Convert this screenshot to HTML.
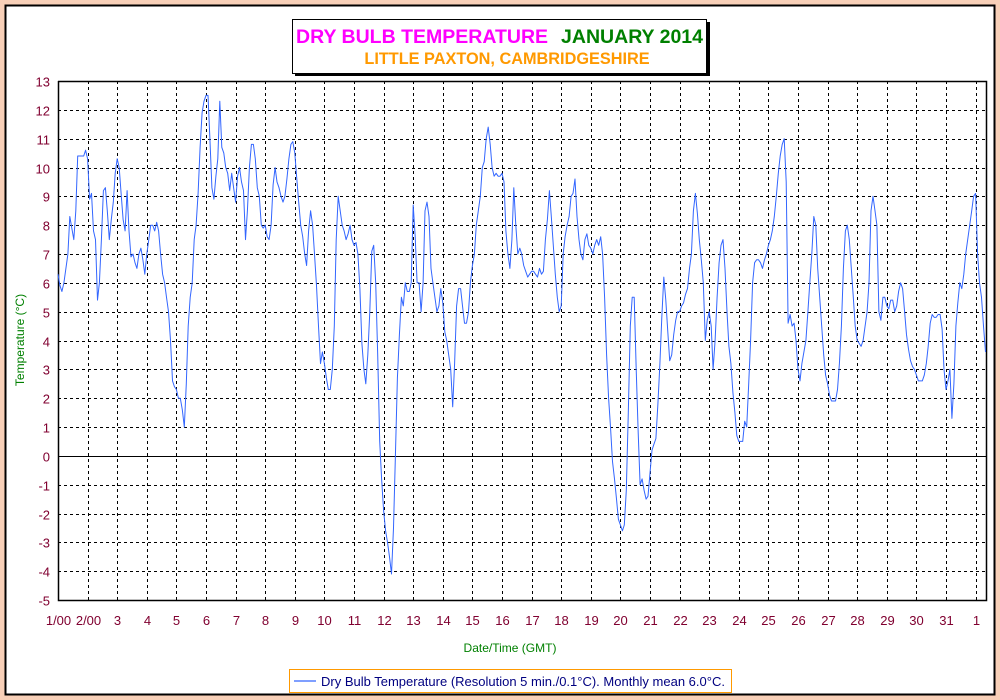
<!DOCTYPE html>
<html><head><meta charset="utf-8"><style>
html,body{margin:0;padding:0;background:#F8D0B8;}
svg{display:block;font-family:"Liberation Sans",sans-serif;}
</style></head><body>
<svg id="chart" width="1000" height="700" viewBox="0 0 1000 700">
<rect x="0" y="0" width="1000" height="700" fill="#F8D0B8"/>
<rect x="5.5" y="5.5" width="989" height="689" fill="#fff" stroke="#000" stroke-width="2"/>
<g>
<rect x="295" y="22" width="415" height="54" fill="#000"/>
<rect x="292.5" y="19.5" width="414" height="54" fill="#fff" stroke="#000" stroke-width="1"/>
<text x="296" y="43" font-size="19.5" font-weight="bold" fill="#FF00FF">DRY BULB TEMPERATURE</text>
<text x="703" y="43" font-size="19.5" font-weight="bold" fill="#008000" text-anchor="end">JANUARY 2014</text>
<text x="507" y="64" font-size="16.3" font-weight="bold" fill="#FF9900" text-anchor="middle">LITTLE PAXTON, CAMBRIDGESHIRE</text>
</g>
<g id="grid"></g>
<g id="axes"></g>
<g id="series"></g>
<text x="510" y="652" font-size="12" fill="#008000" text-anchor="middle">Date/Time (GMT)</text>
<text transform="translate(24,340) rotate(-90)" font-size="12" fill="#008000" text-anchor="middle">Temperature (°C)</text>
<g>
<rect x="289.5" y="669.5" width="442" height="23" fill="#fff" stroke="#FF9900" stroke-width="1"/>
<line x1="294" y1="681" x2="316" y2="681" stroke="#3366FF" stroke-width="1.2"/>
<text x="321" y="686" font-size="13" fill="#000080">Dry Bulb Temperature (Resolution 5 min./0.1°C). Monthly mean 6.0°C.</text>
</g>
</svg>
<script>
const xTickLabels = ["1/00","2/00","3","4","5","6","7","8","9","10","11","12","13","14","15","16","17","18","19","20","21","22","23","24","25","26","27","28","29","30","31","1"];
const yTicks = [13,12,11,10,9,8,7,6,5,4,3,2,1,0,-1,-2,-3,-4,-5];
const day01 = [6.3,5.9,5.7,6.0,6.5,7.0,8.3,7.9,7.5,8.5,10.4,10.4,10.4,10.4,10.6];
const day02 = [10.3,8.9,9.1,7.8,7.5,5.4,6.0,7.5,9.2,9.3,8.5,7.5,8.2,8.8,9.8];
const day03 = [10.3,10.0,9.1,8.2,7.8,9.2,7.8,6.9,7.0,6.7,6.5,7.0,7.2,6.8,6.3];
const day04 = [7.0,7.5,8.0,8.0,7.8,8.1,7.8,7.0,6.3,6.0,5.5,5.0,4.0,2.6,2.4];
const day05 = [2.3,2.0,2.0,1.6,1.0,2.5,4.5,5.5,6.0,7.5,8.0,9.1,10.7,11.9,12.3];
const day06 = [12.5,12.5,11.0,9.3,8.9,9.7,10.3,12.3,10.7,10.5,10.0,9.8,9.2,9.8,9.3];
const day07 = [8.8,9.7,10.0,9.5,9.2,7.5,8.5,10.0,10.8,10.8,10.3,9.3,9.0,8.0,7.9];
const day08 = [8.0,7.6,7.5,8.0,9.4,10.0,9.5,9.3,9.0,8.8,9.0,9.6,10.3,10.8,10.9];
const day09 = [10.5,9.6,8.8,8.0,7.6,7.0,6.6,7.8,8.5,8.0,7.0,5.9,4.5,3.2,3.6];
const day10 = [3.2,2.7,2.3,2.3,3.0,4.5,7.5,9.0,8.5,8.0,7.8,7.5,7.7,8.0,7.5];
const day11 = [7.3,7.4,7.0,5.8,3.9,3.0,2.5,3.5,5.0,7.1,7.3,6.0,3.5,0.5,-0.8];
const day12 = [-1.9,-2.6,-3.0,-3.5,-4.1,-2.5,0.0,2.7,4.2,5.5,5.2,6.0,5.7,5.7,6.0];
const day13 = [8.7,7.6,6.0,6.0,5.0,6.0,8.5,8.8,8.3,6.5,6.0,5.5,5.0,5.2,5.8];
const day14 = [5.3,4.3,4.0,3.5,3.0,1.7,3.2,5.2,5.8,5.8,5.2,4.6,4.6,5.0,6.0];
const day15 = [6.6,7.0,8.0,8.5,9.0,10.0,10.2,11.0,11.4,10.8,10.0,9.7,9.8,9.7,9.7];
const day16 = [9.8,9.5,7.8,7.0,6.5,7.5,9.3,8.0,7.0,7.2,7.0,6.6,6.4,6.2,6.3];
const day17 = [6.4,6.4,6.3,6.2,6.5,6.3,6.4,7.5,8.2,9.2,8.3,7.3,6.3,5.5,5.0];
const day18 = [5.2,7.0,7.6,8.0,8.3,9.0,9.1,9.6,8.3,7.5,7.0,6.8,7.5,7.7,7.3];
const day19 = [7.2,7.0,7.3,7.5,7.3,7.6,7.0,5.5,3.5,2.0,1.0,-0.2,-0.8,-1.5,-2.2];
const day20 = [-2.4,-2.6,-2.4,-1.2,1.5,4.5,5.5,5.5,3.0,0.8,-1.0,-0.8,-1.2,-1.5,-1.4];
const day21 = [-0.6,0.2,0.4,0.6,1.8,3.2,4.8,6.2,5.4,4.3,3.3,3.5,4.2,4.7,5.0];
const day22 = [5.0,5.2,5.3,5.6,5.8,6.5,7.0,8.5,9.1,8.4,7.5,6.8,6.0,4.0,4.7];
const day23 = [5.0,4.5,3.0,4.0,5.5,6.7,7.3,7.5,6.5,5.0,3.8,3.2,2.2,1.5,0.7];
const day24 = [0.5,0.5,0.5,1.2,1.0,2.5,4.0,6.0,6.7,6.8,6.8,6.7,6.5,6.8,7.0];
const day25 = [7.3,7.5,7.8,8.3,9.0,9.8,10.4,10.8,11.0,9.5,4.6,4.9,4.5,4.6,4.0];
const day26 = [3.0,2.6,3.2,3.6,4.0,5.0,6.0,7.0,8.3,8.0,6.5,5.5,4.5,3.5,2.8];
const day27 = [2.5,2.1,1.9,1.9,1.9,2.3,3.2,4.5,6.5,7.8,8.0,7.5,6.5,5.5,4.5];
const day28 = [4.0,3.9,3.8,4.0,4.5,5.0,6.0,8.5,9.0,8.5,8.0,5.0,4.7,5.5,5.5];
const day29 = [5.2,5.1,5.4,5.4,5.0,5.2,5.7,6.0,5.8,5.0,4.2,3.7,3.3,3.1,3.0];
const day30 = [2.8,2.6,2.6,2.6,2.8,3.2,3.8,4.6,4.9,4.8,4.8,4.9,4.9,4.4,3.0];
const day31 = [2.3,2.6,3.0,1.3,2.5,4.5,5.3,6.0,5.8,6.3,7.0,7.5,8.0,8.5,9.0];
const day32 = [9.1,7.0,6.0,5.5,4.5,3.6];
const dailySeries = [day01,day02,day03,day04,day05,day06,day07,day08,day09,day10,day11,day12,day13,day14,day15,day16,day17,day18,day19,day20,day21,day22,day23,day24,day25,day26,day27,day28,day29,day30,day31,day32];
const samplesPerDay = 15;

const NS = "http://www.w3.org/2000/svg";
const plotL = 58, plotR = 986, plotT = 81, plotB = 600;
const dayW = 29.6, yMin = -5, yMax = 13;
function xScale(dayOffset){ return plotL + dayOffset * dayW; }
function yScale(v){ return plotB - (v - yMin) / (yMax - yMin) * (plotB - plotT); }
function mk(tag, attrs, parent){
  const el = document.createElementNS(NS, tag);
  for (const k in attrs) el.setAttribute(k, attrs[k]);
  parent.appendChild(el);
  return el;
}
const grid = document.getElementById('grid');
const axes = document.getElementById('axes');
const series = document.getElementById('series');

yTicks.forEach(v => {
  const y = Math.round(yScale(v)) + 0.5;
  if (v !== yMin && v !== yMax) {
    const ln = mk('line', {x1: plotL, x2: plotR, y1: y, y2: y, stroke: '#000', 'stroke-width': 1, 'stroke-dasharray': v === 0 ? 'none' : '3,3'}, grid);
    
    
  }
  const t = mk('text', {x: 50, y: y + 5, 'font-size': 13, fill: '#800030', 'text-anchor': 'end'}, axes);
  t.textContent = v;
  
  
});
xTickLabels.forEach((lab, i) => {
  const x = Math.round(xScale(i)) + 0.5;
  if (i > 0) {
    const ln = mk('line', {x1: x, x2: x, y1: plotT, y2: plotB, stroke: '#000', 'stroke-width': 1, 'stroke-dasharray': '3,3'}, grid);
    
    
  }
  const t = mk('text', {x: x, y: 625, 'font-size': 13, fill: '#800030', 'text-anchor': 'middle'}, axes);
  t.textContent = lab;
  
  
});
const frame = mk('path', {d: `M${plotL+0.5},${plotT} V${plotB+0.5} H${plotR+0.5} V${plotT+0.5} H${plotL}`, fill: 'none', stroke: '#000', 'stroke-width': 1.5}, axes);



let pts = [];
dailySeries.forEach((vals, d) => {
  vals.forEach((v, i) => {
    pts.push(xScale(d + i / samplesPerDay).toFixed(1) + ',' + yScale(v).toFixed(1));
  });
});
const line = mk('polyline', {points: pts.join(' '), fill: 'none', stroke: '#3366FF', 'stroke-width': 1, 'stroke-linejoin': 'round'}, series);


</script>
</body></html>
